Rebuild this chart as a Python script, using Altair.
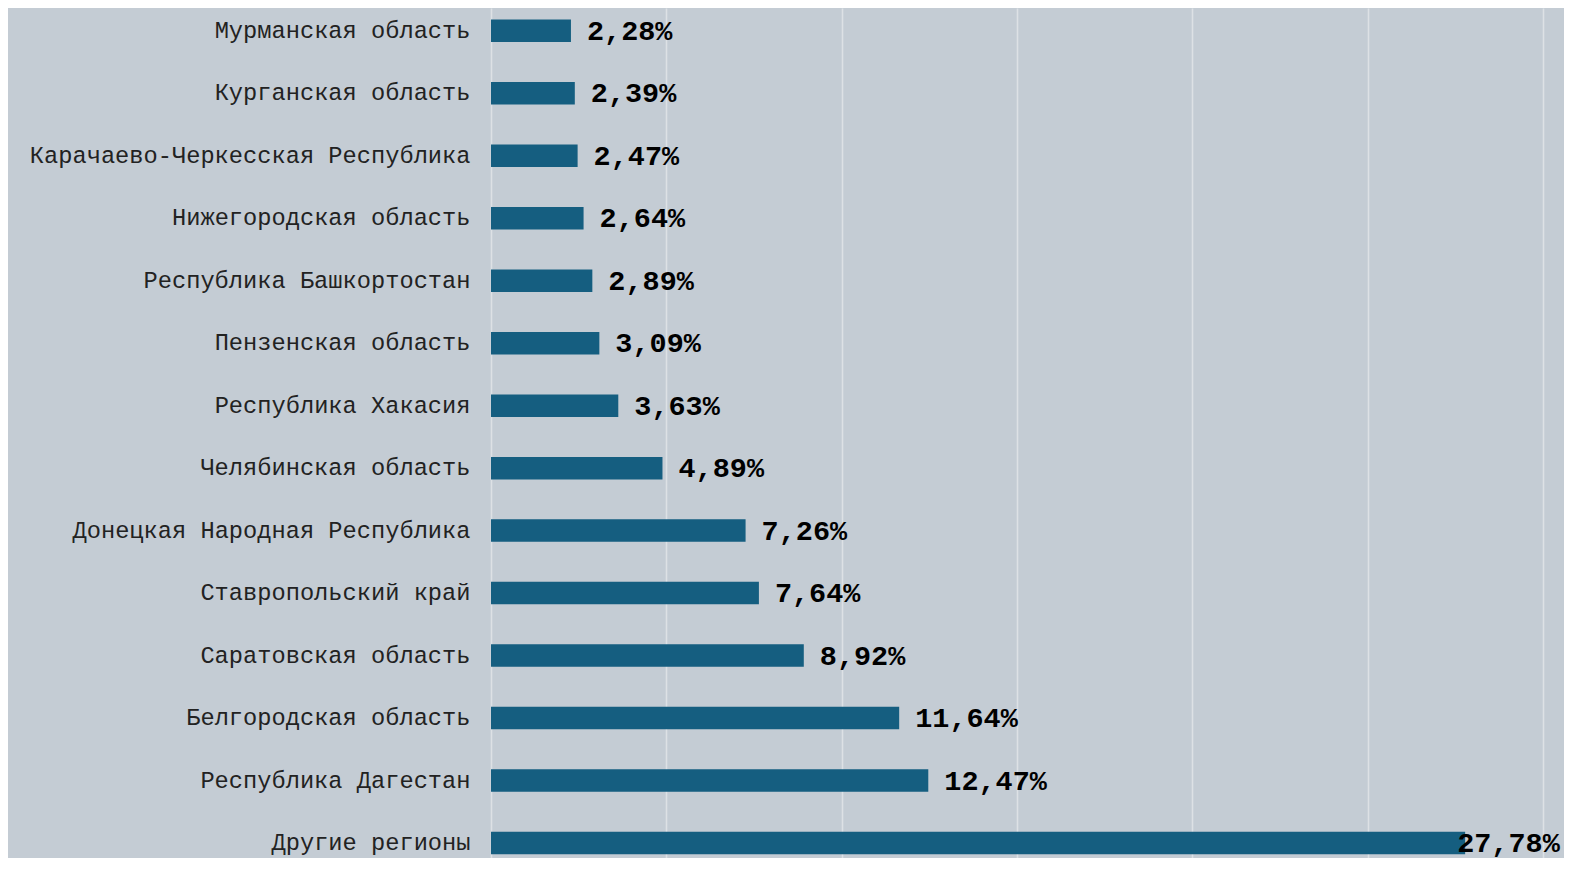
import altair as alt
import pandas as pd

regions = [
    "Мурманская область",
    "Курганская область",
    "Карачаево-Черкесская Республика",
    "Нижегородская область",
    "Республика Башкортостан",
    "Пензенская область",
    "Республика Хакасия",
    "Челябинская область",
    "Донецкая Народная Республика",
    "Ставропольский край",
    "Саратовская область",
    "Белгородская область",
    "Республика Дагестан",
    "Другие регионы",
]
shares = [2.28, 2.39, 2.47, 2.64, 2.89, 3.09, 3.63, 4.89, 7.26, 7.64, 8.92, 11.64, 12.47, 27.78]

labels = [f"{v:.2f}".replace(".", ",") + "%" for v in shares]
df = pd.DataFrame({"region": regions, "share": shares, "label": labels})

BG = "#c4ccd4"
BAR = "#155e80"
MONO = "'Courier New', 'Nimbus Mono PS', 'Nimbus Mono L', FreeMono, Courier, 'Liberation Mono', monospace"

y_enc = alt.Y(
    "region:N",
    sort=regions,
    title=None,
    scale=alt.Scale(paddingInner=0.64, paddingOuter=0.1224, align=0.755),
    axis=alt.Axis(
        labelFont=MONO,
        labelFontSize=23.7,
        labelColor="#222222",
        labelPadding=21,
        ticks=False,
        domain=False,
        labelLimit=800,
    ),
)
x_enc = alt.X(
    "share:Q",
    title=None,
    scale=alt.Scale(domain=[0, 30], nice=False),
    axis=alt.Axis(
        values=[0, 5, 10, 15, 20, 25, 30],
        labels=False,
        ticks=False,
        domain=False,
        grid=True,
        gridColor="#dde1e5",
        gridWidth=1.5,
    ),
)

base = alt.Chart(df)
bars = base.mark_bar(color=BAR).encode(x=x_enc, y=y_enc)

text_style = dict(
    align="left",
    baseline="middle",
    font=MONO,
    fontSize=28.5,
    fontWeight="bold",
    color="#000000",
)
text_out = base.transform_filter("datum.share < 25").mark_text(dx=16, **text_style).encode(
    x=alt.X("share:Q"), y=alt.Y("region:N", sort=regions), text="label:N"
)
text_edge = base.transform_filter("datum.share >= 25").mark_text(dx=-8, **text_style).encode(
    x=alt.X("share:Q"), y=alt.Y("region:N", sort=regions), text="label:N"
)

chart = (
    (bars + text_out + text_edge)
    .properties(
        width=1052,
        height=850,
        background=BG,
        padding={"left": 483, "top": 0, "right": 21, "bottom": 0},
        autosize=alt.AutoSizeParams(type="none"),
    )
    .configure_view(stroke=None, fill=BG)
)

chart.save("out.html", embed_options={"renderer": "svg", "actions": False})
